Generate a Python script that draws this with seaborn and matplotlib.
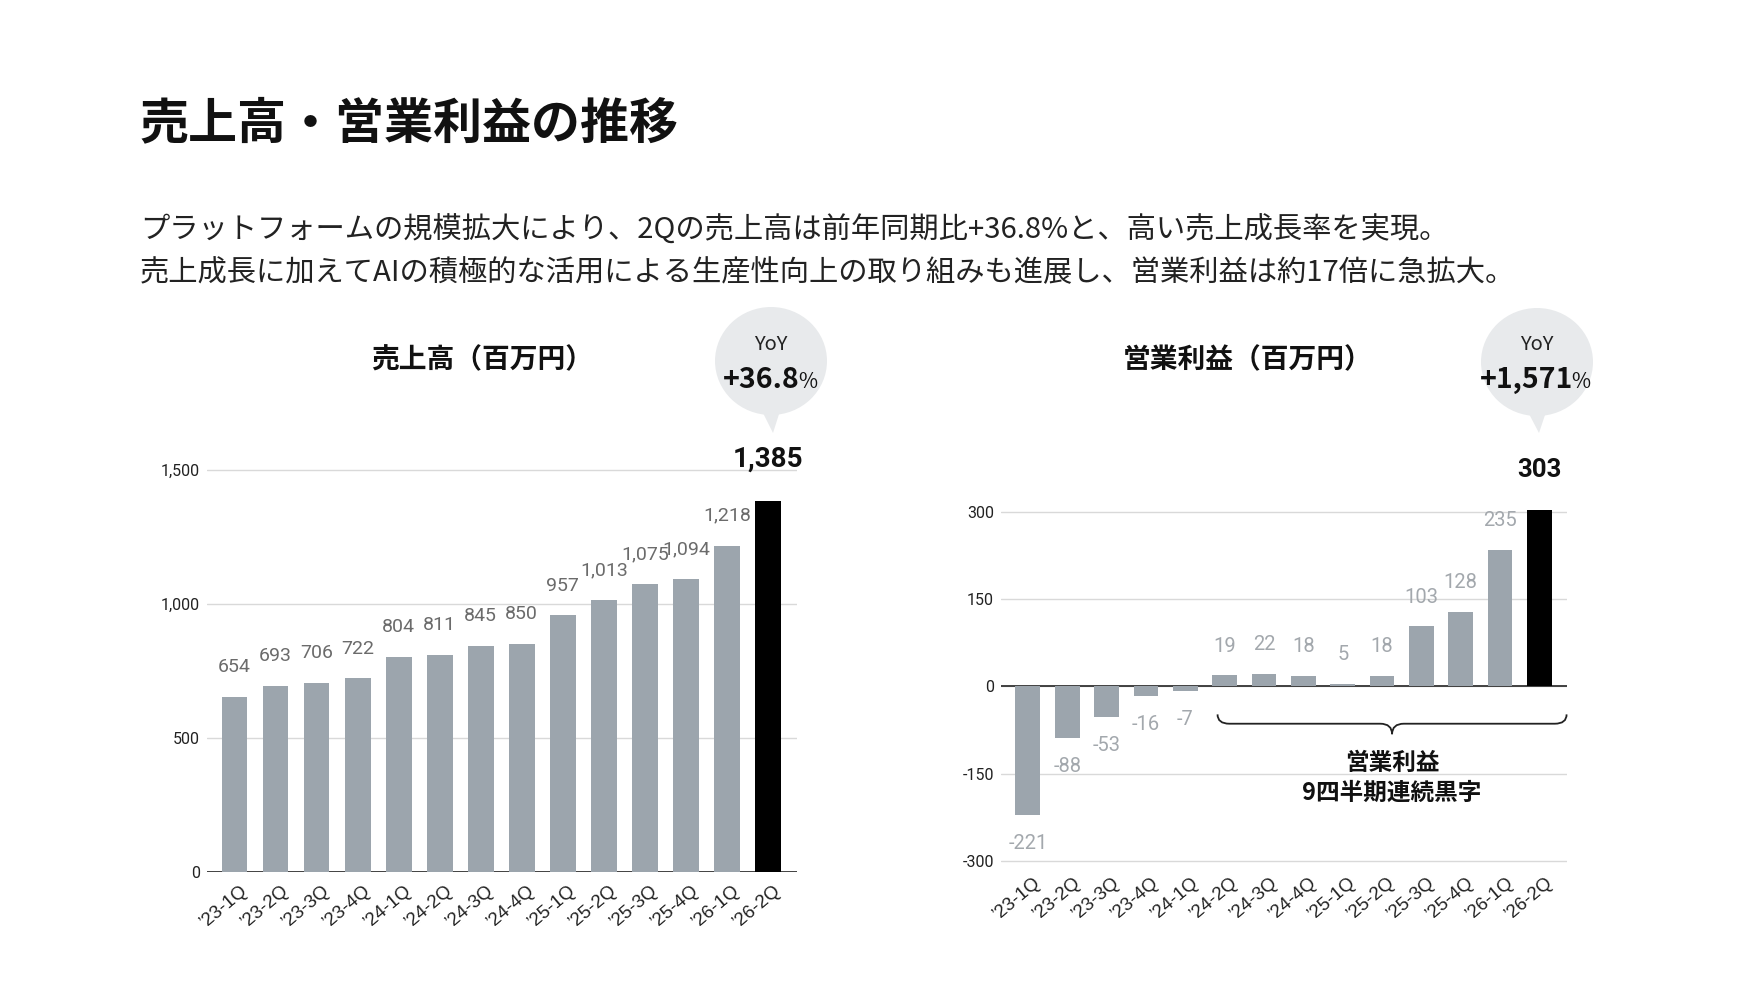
import numpy as np
import pandas as pd
import matplotlib.pyplot as plt
import matplotlib.transforms as mtransforms
from matplotlib.path import Path
from matplotlib.patches import PathPatch, Ellipse, Polygon
import seaborn as sns

sns.set_theme(style="white")
plt.rcParams['font.family'] = ['Noto Sans CJK JP', 'DejaVu Sans']

# data
quarters = ["’23-1Q", "’23-2Q", "’23-3Q", "’23-4Q", "’24-1Q", "’24-2Q", "’24-3Q",
            "’24-4Q", "’25-1Q", "’25-2Q", "’25-3Q", "’25-4Q", "’26-1Q", "’26-2Q"]
sales = [654, 693, 706, 722, 804, 811, 845, 850, 957, 1013, 1075, 1094, 1218, 1385]
op_income = [-221, -88, -53, -16, -7, 19, 22, 18, 5, 18, 103, 128, 235, 303]
sales_ticks = [0, 500, 1000, 1500]
op_ticks = [-300, -150, 0, 150, 300]

title = "売上高・営業利益の推移"
subtitle = ["プラットフォームの規模拡大により、2Qの売上高は前年同期比+36.8%と、高い売上成長率を実現。",
            "売上成長に加えてAIの積極的な活用による生産性向上の取り組みも進展し、営業利益は約17倍に急拡大。"]
sales_title = "売上高（百万円）"
op_title = "営業利益（百万円）"
sales_yoy = "+36.8"
op_yoy = "+1,571"
brace_text = ["営業利益", "9四半期連続黒字"]

GRAY = "#9ca5ad"
W, H = 1758, 990


def fx(x):
    return x / W


def fy(y):
    return 1 - y / H


df = pd.DataFrame({"quarter": quarters, "sales": sales, "op": op_income})
colors = [GRAY] * (len(quarters) - 1) + ["#000000"]

fig = plt.figure(figsize=(17.58, 9.90), dpi=100)
fig.patch.set_facecolor("white")

# header text
fig.text(fx(140), fy(124), title, fontsize=35.3, fontweight="bold", va="center", ha="left", color="#111111")
for i, line in enumerate(subtitle):
    fig.text(fx(140), fy(231 + 42 * i), line, fontsize=21.1, va="center", ha="left", color="#222222")

ax1 = fig.add_axes([fx(207), fy(872), fx(797) - fx(207), (872 - 464.6) / H])
ax2 = fig.add_axes([fx(1000.7), fy(864), fx(1566.6) - fx(1000.7), (864 - 506) / H])


def style_axes(ax, ticks, tick_fmt):
    sns.despine(ax=ax, left=True, bottom=True, top=True, right=True)
    ax.set_yticks(ticks)
    ax.set_yticklabels([tick_fmt(t) for t in ticks], fontsize=11.5, family="Roboto", color="#222222")
    ax.grid(axis="y", color="#d9d9d9", lw=1)
    ax.grid(axis="x", visible=False)
    ax.set_axisbelow(True)
    ax.tick_params(axis="both", length=0)
    ax.tick_params(axis="y", pad=5)
    ax.tick_params(axis="x", pad=12)
    ax.set_xlabel("")
    ax.set_ylabel("")
    ax.set_xticks(range(len(quarters)))
    ax.set_xticklabels(quarters, rotation=40, ha="right", va="center", rotation_mode="anchor",
                       fontsize=13.5, family="Liberation Sans", color="#222222")
    off = mtransforms.ScaledTranslation(11 / 100, 0, fig.dpi_scale_trans)
    for lab in ax.get_xticklabels():
        lab.set_transform(lab.get_transform() + off)
    ax.axhline(0, color="#333333", lw=1.3, zorder=1.5)


# sales chart
sns.barplot(data=df, x="quarter", y="sales", hue="quarter", palette=colors, legend=False,
            width=0.63, ax=ax1, saturation=1, linewidth=0, zorder=2)
ax1.set_xlim(-0.67, 13.71)
ax1.set_ylim(0, 1520)
style_axes(ax1, sales_ticks, lambda t: f"{t:,}")
for i, v in enumerate(sales):
    if i == len(sales) - 1:
        ax1.annotate(f"{v:,}", (i, v), xytext=(0, 30), textcoords="offset points", ha="center",
                     va="center", fontsize=20, fontweight="bold", color="#111111", family="Roboto")
    else:
        ax1.annotate(f"{v:,}", (i, v), xytext=(0, 21.5), textcoords="offset points", ha="center",
                     va="center", fontsize=14, color="#6b6b6b", family="Roboto")

# operating income chart
sns.barplot(data=df, x="quarter", y="op", hue="quarter", palette=colors, legend=False,
            width=0.63, ax=ax2, saturation=1, linewidth=0, zorder=2)
ax2.set_xlim(-0.69, 13.69)
ax2.set_ylim(-305, 310)
style_axes(ax2, op_ticks, lambda t: f"{t}")
for i, v in enumerate(op_income):
    if i == len(op_income) - 1:
        ax2.annotate(f"{v:,}", (i, v), xytext=(0, 29), textcoords="offset points", ha="center",
                     va="center", fontsize=18.5, fontweight="bold", color="#111111", family="Roboto")
    else:
        dy = 21 if v >= 0 else -20.5
        ax2.annotate(f"{v:,}", (i, v), xytext=(0, dy), textcoords="offset points", ha="center",
                     va="center", fontsize=14.5, color="#a3a8ad", family="Roboto")

# brace under the profitable quarters
first_pos = next(i for i, v in enumerate(op_income) if v > 0)
x0, x1 = first_pos - 0.18, ax2.get_xlim()[1]
xc = (x0 + x1) / 2
y_top, y_mid, y_tip = -48, -64, -82
d = 0.3
verts = [(x0, y_top), (x0, y_mid), (x0 + d, y_mid), (xc - d, y_mid), (xc, y_mid), (xc, y_tip),
         (xc, y_mid), (xc + d, y_mid), (x1 - d, y_mid), (x1, y_mid), (x1, y_top)]
codes = [Path.MOVETO, Path.CURVE3, Path.CURVE3, Path.LINETO, Path.CURVE3, Path.CURVE3,
         Path.CURVE3, Path.CURVE3, Path.LINETO, Path.CURVE3, Path.CURVE3]
ax2.add_patch(PathPatch(Path(verts, codes), fill=False, lw=1.3, color="#222222", clip_on=False, zorder=4))
ax2.text(xc, -131, brace_text[0], ha="center", va="center", fontsize=17, fontweight="bold", color="#111111")
ax2.text(xc, -183, brace_text[1], ha="center", va="center", fontsize=17, fontweight="bold", color="#111111")

# chart titles
fig.text(fx(482), fy(360), sales_title, fontsize=20, fontweight="bold", ha="center", va="center", color="#111111")
fig.text(fx(1248), fy(360), op_title, fontsize=20, fontweight="bold", ha="center", va="center", color="#111111")


# YoY bubbles
def bubble(cx, cy, value, split_x):
    r = 56
    fig.patches.append(Ellipse((fx(cx), fy(cy)), 2 * r / W, 2 * (r - 2) / H, transform=fig.transFigure,
                               facecolor="#e8eaec", edgecolor="none", zorder=0))
    fig.patches.append(Polygon([(fx(cx - 9), fy(cy + 50)), (fx(cx + 9), fy(cy + 50)), (fx(cx + 2), fy(433))],
                               closed=True, transform=fig.transFigure, facecolor="#e8eaec",
                               edgecolor="none", zorder=0))
    fig.text(fx(cx), fy(344), "YoY", fontsize=14.5, ha="center", va="center", color="#222222")
    fig.text(fx(split_x), fy(388), value, fontsize=20.5, fontweight="bold", ha="right", va="baseline",
             color="#111111")
    fig.text(fx(split_x - 2), fy(388), "%", fontsize=15, ha="left", va="baseline", color="#111111")


bubble(771, 361, sales_yoy, 800)
bubble(1537, 362, op_yoy, 1573)

fig.savefig("out.png", dpi=100, facecolor="white")
